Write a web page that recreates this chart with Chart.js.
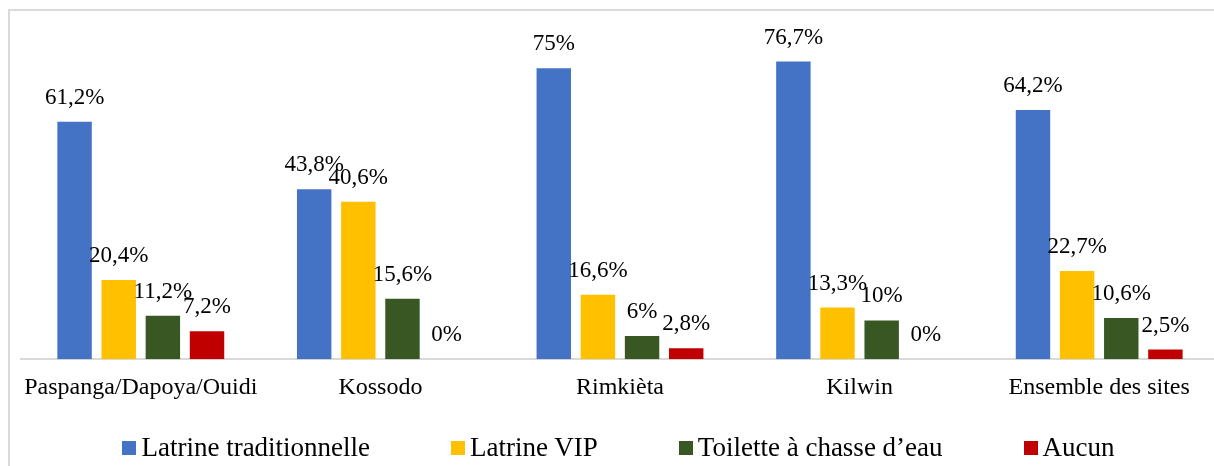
<!DOCTYPE html>
<html>
<head>
<meta charset="utf-8">
<script src="https://cdn.jsdelivr.net/npm/chart.js@4.4.1/dist/chart.umd.min.js"></script>
<style>
    html, body { margin: 0; padding: 0; background: #fff; }
    #wrap { position: relative; width: 1214px; height: 466px; overflow: hidden; }
    #frame {
        position: absolute; left: 8px; top: 9px; right: -10px; bottom: -10px;
        border-left: 2px solid #d9d9d9; border-top: 2px solid #d9d9d9;
    }
    #chart { position: absolute; left: 0; top: 0; }
    #legend {
        position: absolute; left: 23px; right: 0; top: 432px;
        display: flex; justify-content: center; gap: 81px;
        font-family: "Liberation Serif", "Times New Roman", serif;
        font-size: 27px; color: #000; line-height: 31px;
    }
    .item { display: flex; align-items: center; white-space: nowrap; }
    .box { width: 14px; height: 14px; margin-right: 5px; }
</style>
</head>
<body>
<div id="wrap">
    <div id="frame"></div>
    <canvas id="chart" width="1230" height="466"></canvas>
    <div id="legend"></div>
</div>
<script>
const sites = ["Paspanga/Dapoya/Ouidi", "Kossodo", "Rimkièta", "Kilwin", "Ensemble des sites"];
const seriesNames = ["Latrine traditionnelle", "Latrine VIP", "Toilette à chasse d\u2019eau", "Aucun"];
const traditionnelle = [61.2, 43.8, 75, 76.7, 64.2];
const vip = [20.4, 40.6, 16.6, 13.3, 22.7];
const chasseEau = [11.2, 15.6, 6, 10, 10.6];
const aucun = [7.2, 0, 2.8, 0, 2.5];
const colors = ["#4472C4", "#FFC000", "#385723", "#C00000"];

const FONT = "'Liberation Serif', 'Times New Roman', serif";
Chart.defaults.font.family = FONT;
Chart.defaults.color = "#000";

/* ---------------- Value labels ---------------- */
const valueLabels = {
    id: "valueLabels",
    afterDatasetsDraw(chart) {
        const ctx = chart.ctx;
        ctx.save();
        ctx.font = "23px " + FONT;
        ctx.fillStyle = "#000";
        ctx.textAlign = "center";
        ctx.textBaseline = "middle";
        chart.data.datasets.forEach((ds, i) => {
            chart.getDatasetMeta(i).data.forEach((bar, j) => {
                const txt = String(ds.data[j]).replace(".", ",") + "%";
                ctx.fillText(txt, bar.x, bar.y - 24);
            });
        });
        ctx.restore();
    }
};

const allSeries = [traditionnelle, vip, chasseEau, aucun];

// plot area runs a bit past the right edge of the window, like the source image
new Chart(document.getElementById("chart"), {
    type: "bar",
    data: {
        labels: sites,
        datasets: allSeries.map((d, i) => ({
            label: seriesNames[i],
            data: d,
            backgroundColor: colors[i],
            barPercentage: 0.78,
            categoryPercentage: 0.737
        }))
    },
    options: {
        responsive: false,
        animation: false,
        layout: { padding: { left: 21, right: 11, top: 10, bottom: 50 } },
        plugins: {
            legend: { display: false },
            tooltip: { enabled: false }
        },
        scales: {
            x: {
                grid: { display: false, drawTicks: false },
                border: { display: true, color: "#d9d9d9", width: 2 },
                ticks: { padding: 14, font: { size: 24 }, maxRotation: 0 }
            },
            y: {
                display: false,
                min: 0,
                max: 90
            }
        }
    },
    plugins: [valueLabels]
});

/* ---------------- Legend ---------------- */
const legend = document.getElementById("legend");
seriesNames.forEach((name, i) => {
    const div = document.createElement("div");
    div.className = "item";
    div.innerHTML = `<span class="box" style="background:${colors[i]}"></span><span>${name}</span>`;
    legend.appendChild(div);
});
</script>
</body>
</html>
